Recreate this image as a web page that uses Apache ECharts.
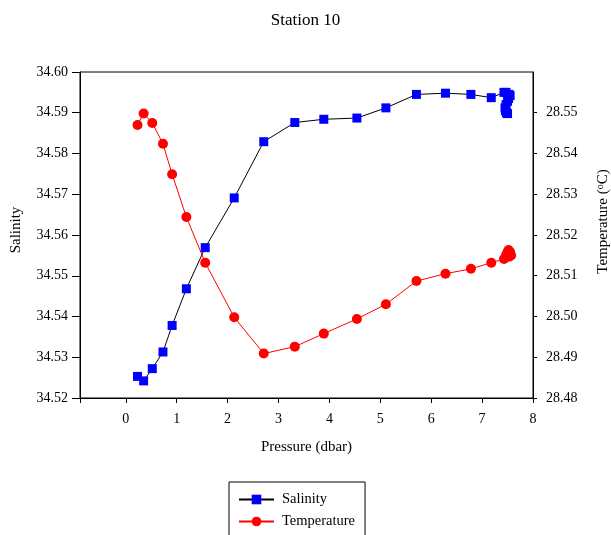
<!DOCTYPE html>
<html><head><meta charset="utf-8">
<script src="https://cdn.jsdelivr.net/npm/echarts@6/dist/echarts.min.js"></script>
<style>html,body{margin:0;padding:0;background:#fff;}#c{width:611px;height:535px;}</style>
</head><body><div id="c"></div>
<script>
const salPressure = [0.23,0.35,0.52,0.73,0.91,1.19,1.56,2.13,2.71,3.32,3.89,4.54,5.11,5.71,6.28,6.78,7.18,7.43,7.47,7.53,7.55,7.52,7.50,7.47,7.45,7.46,7.48,7.50];
const salinity = [34.5253,34.5242,34.5272,34.5313,34.5378,34.5468,34.5569,34.5691,34.5829,34.5876,34.5884,34.5887,34.5912,34.5945,34.5948,34.5945,34.5937,34.5950,34.5950,34.5945,34.5942,34.5935,34.5928,34.5920,34.5912,34.5905,34.5900,34.5898];
const tempPressure = [0.23,0.35,0.52,0.73,0.91,1.19,1.56,2.13,2.71,3.32,3.89,4.54,5.11,5.71,6.28,6.78,7.18,7.43,7.47,7.50,7.52,7.55,7.57,7.53,7.49];
const temperature = [28.5470,28.5498,28.5475,28.5424,28.5349,28.5244,28.5132,28.4998,28.4909,28.4926,28.4958,28.4994,28.5030,28.5087,28.5105,28.5117,28.5132,28.5141,28.5150,28.5158,28.5163,28.5158,28.5150,28.5147,28.5153];
const titleText = "Station 10";
const xName = "Pressure (dbar)";
const yLeftName = "Salinity";
const yRightName = "Temperature ({s|o}C)";
const seriesNames = ["Salinity", "Temperature"];

const font = "Liberation Serif";
const chart = echarts.init(document.getElementById('c'), null, {renderer:'canvas'});
chart.setOption({
  animation:false,
  backgroundColor:'#fff',
  title:{text:titleText,left:'center',top:7,textStyle:{fontFamily:font,fontSize:17,fontWeight:'normal',color:'#000'}},
  grid:{left:80,right:78,top:72,bottom:137,outerBoundsMode:'none',containLabel:false,
    show:true,borderColor:'#000',borderWidth:1,backgroundColor:'transparent'},
  legend:{orient:'vertical',left:229,top:482,height:120,itemWidth:35,itemHeight:12,itemGap:7,
    padding:[10,10,30,9],borderColor:'#000',borderWidth:1,
    textStyle:{fontFamily:font,fontSize:14.5,color:'#000',padding:[0,0,0,3]},data:seriesNames},
  xAxis:{type:'value',min:-0.9,max:8,splitNumber:9,minInterval:1,maxInterval:1,
    name:xName,nameLocation:'middle',nameGap:42,nameTextStyle:{fontFamily:font,fontSize:15,color:'#000'},
    axisLine:{onZero:false,lineStyle:{color:'#000'}},axisTick:{inside:false,length:5,lineStyle:{color:'#000'}},
    splitLine:{show:false},
    axisLabel:{fontFamily:font,fontSize:14,color:'#000',margin:14,formatter:v=>v<0?'':String(v)}},
  yAxis:[
    {type:'value',min:34.52,max:34.60,interval:0.01,position:'left',
     name:yLeftName,nameLocation:'middle',nameGap:56,
     nameTextStyle:{fontFamily:font,fontSize:15,color:'#000',padding:[0,0,0,10]},
     axisLine:{show:true,onZero:false,lineStyle:{color:'#000'}},axisTick:{show:true,length:8,lineStyle:{color:'#000'}},
     splitLine:{show:false},
     axisLabel:{fontFamily:font,fontSize:14,color:'#000',margin:12,formatter:v=>v.toFixed(2)}},
    {type:'value',min:28.48,max:28.56,interval:0.01,position:'right',
     name:yRightName,nameLocation:'middle',nameGap:62,
     nameTextStyle:{fontFamily:font,fontSize:15,color:'#000',padding:[0,0,0,27],
       rich:{s:{fontFamily:font,fontSize:10,verticalAlign:'top',padding:[0,0,7,0]}}},
     axisLine:{show:true,onZero:false,lineStyle:{color:'#000'}},axisTick:{show:true,length:4,lineStyle:{color:'#000'}},
     splitLine:{show:false},
     axisLabel:{fontFamily:font,fontSize:14,color:'#000',margin:13,showMaxLabel:false,formatter:v=>v.toFixed(2)}}
  ],
  series:[
    {name:seriesNames[0],type:'line',yAxisIndex:0,data:salPressure.map((p,i)=>[p,salinity[i]]),
     symbol:'rect',symbolSize:9,itemStyle:{color:'#0000ff'},lineStyle:{color:'#000',width:1}},
    {name:seriesNames[1],type:'line',yAxisIndex:1,data:tempPressure.map((p,i)=>[p,temperature[i]]),
     symbol:'circle',symbolSize:10,itemStyle:{color:'#ff0000'},lineStyle:{color:'#ff0000',width:1}}
  ]
});
</script></body></html>
